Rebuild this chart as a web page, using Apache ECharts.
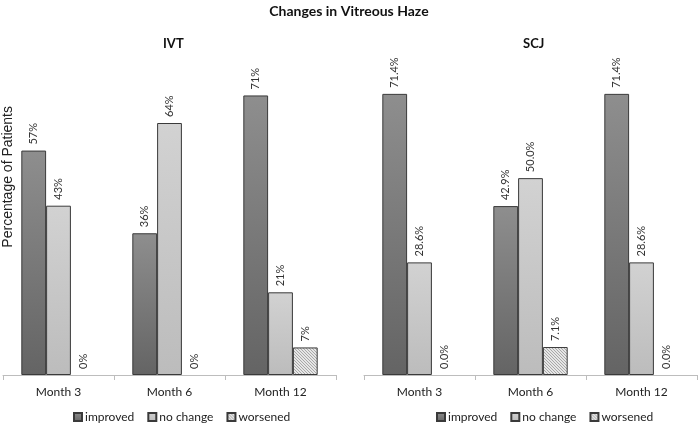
<!DOCTYPE html>
<html><head><meta charset="utf-8">
<script src="https://cdn.jsdelivr.net/npm/echarts@6/dist/echarts.min.js"></script>
<style>html,body{margin:0;padding:0;background:#fff}#c{width:698px;height:423px}</style>
</head><body><div id="c"></div>
<script>
const categories = ['Month 3', 'Month 6', 'Month 12'];
const seriesNames = ['improved', 'no change', 'worsened'];
const ivtImproved = [57, 36, 71];
const ivtNoChange = [43, 64, 21];
const ivtWorsened = [0, 0, 7];
const scjImproved = [71.4, 42.9, 71.4];
const scjNoChange = [28.6, 50.0, 28.6];
const scjWorsened = [0.0, 7.1, 0.0];
const panelTitles = ['IVT', 'SCJ'];

function hatch() {
  const c = document.createElement('canvas');
  c.width = 3; c.height = 3;
  const g = c.getContext('2d');
  g.fillStyle = '#e6e6e6'; g.fillRect(0, 0, 3, 3);
  g.fillStyle = '#a8a8a8';
  g.fillRect(0, 0, 1, 1); g.fillRect(1, 1, 1, 1); g.fillRect(2, 2, 1, 1);
  return c;
}
const hatchImg = hatch();
const colImproved = {type:'linear',x:0,y:0,x2:0,y2:1,colorStops:[{offset:0,color:'#8e8e8e'},{offset:1,color:'#646464'}]};
const colNoChange = {type:'linear',x:0,y:0,x2:0,y2:1,colorStops:[{offset:0,color:'#d2d2d2'},{offset:1,color:'#bcbcbc'}]};
const colWorsened = {image: hatchImg, repeat: 'repeat'};
const colors = [colImproved, colNoChange, colWorsened];

function mkSeries(name, data, idx, decimals, colorIdx) {
  return {
    name: name, type: 'bar', xAxisIndex: idx, yAxisIndex: idx,
    data: data.map(v => v === 0 ? {value: v, itemStyle: {borderWidth: 0}} : v),
    barGap: '0%', barCategoryGap: '33%',
    itemStyle: {color: colors[colorIdx], borderColor: '#3a3a3a', borderWidth: 1},
    label: {show: true, position: 'top', rotate: 90, distance: 6, align: 'left', verticalAlign: 'middle',
      fontFamily: 'Lato', fontSize: 11, color: '#333',
      formatter: p => p.value.toFixed(decimals) + '%'},
    emphasis: {disabled: true}
  };
}

const chart = echarts.init(document.getElementById('c'));
const xAxisBase = (i) => ({
  type: 'category', gridIndex: i, data: categories,
  axisLine: {lineStyle: {color: '#bdbdbd'}},
  axisTick: {show: true, length: 5, lineStyle: {color: '#bdbdbd'}},
  axisLabel: {fontFamily: 'Lato', fontSize: 12, color: '#222', margin: 11}
});
const yAxisBase = (i) => ({type: 'value', gridIndex: i, min: 0, max: 80, show: false});
const legendBase = (left) => ({
  data: seriesNames, left: left, top: 411, padding: 0, icon: 'rect', itemWidth: 8, itemHeight: 8, itemGap: 13,
  textStyle: {fontFamily: 'Lato', fontSize: 12, color: '#222', padding: [0, 0, 0, -2]},
  selectedMode: false
});
chart.setOption({
  animation: false,
  title: [
    {text: 'Changes in Vitreous Haze', left: 'center', top: -1, textStyle: {fontFamily: 'Lato', fontSize: 14, fontWeight: 'bold', color: '#111'}},
    {text: panelTitles[0], left: 158, top: 32, textStyle: {fontFamily: 'Lato', fontSize: 13, fontWeight: 'bold', color: '#111'}},
    {text: panelTitles[1], left: 518, top: 32, textStyle: {fontFamily: 'Lato', fontSize: 13, fontWeight: 'bold', color: '#111'}}
  ],
  legend: [legendBase(73), legendBase(436)],
  grid: [
    {left: 3, width: 333, top: 60, bottom: 48},
    {left: 364, width: 333, top: 60, bottom: 48}
  ],
  xAxis: [xAxisBase(0), xAxisBase(1)],
  yAxis: [yAxisBase(0), yAxisBase(1)],
  graphic: [{type: 'text', left: 1, top: 106, rotation: Math.PI / 2,
    style: {text: 'Percentage of Patients', font: '14px "Liberation Sans"', fill: '#222'}}],
  series: [
    mkSeries(seriesNames[0], ivtImproved, 0, 0, 0),
    mkSeries(seriesNames[1], ivtNoChange, 0, 0, 1),
    mkSeries(seriesNames[2], ivtWorsened, 0, 0, 2),
    mkSeries(seriesNames[0], scjImproved, 1, 1, 0),
    mkSeries(seriesNames[1], scjNoChange, 1, 1, 1),
    mkSeries(seriesNames[2], scjWorsened, 1, 1, 2)
  ]
});
</script></body></html>
